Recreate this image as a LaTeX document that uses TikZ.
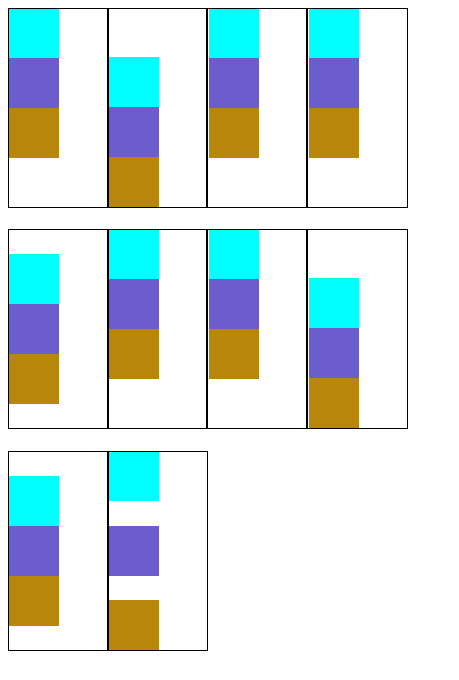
\documentclass[tikz,border=0pt]{standalone}
\begin{document}
\begin{tikzpicture}[x=1pt,y=-1pt,
  frame/.style={draw=black,line width=1pt,minimum width=99.6pt,minimum height=199pt,inner sep=0pt,outer sep=0pt,anchor=north west},
  blk/.style={inner sep=0pt,outer sep=0pt,minimum width=50pt,minimum height=50pt,anchor=north west,draw=none},
  cy/.style={blk,fill={rgb,255:red,0;green,255;blue,255}},
  pu/.style={blk,fill={rgb,255:red,108;green,93;blue,207}},
  go/.style={blk,fill={rgb,255:red,184;green,134;blue,11}},
  divider/.style={line width=2pt,black}]
\useasboundingbox (0,0) rectangle (458,680);
% row 1 blocks
\node[cy] (a1c) at (8.6,8) {}; \node[pu] (a1p) at (8.6,58) {}; \node[go] (a1g) at (8.6,108) {};
\node[cy] (a2c) at (108.6,57) {}; \node[pu] (a2p) at (108.6,107) {}; \node[go] (a2g) at (108.6,157) {};
\node[cy] (a3c) at (208.6,8) {}; \node[pu] (a3p) at (208.6,58) {}; \node[go] (a3g) at (208.6,108) {};
\node[cy] (a4c) at (308.6,8) {}; \node[pu] (a4p) at (308.6,58) {}; \node[go] (a4g) at (308.6,108) {};
% row 2 blocks
\node[cy] (b1c) at (8.6,254) {}; \node[pu] (b1p) at (8.6,304) {}; \node[go] (b1g) at (8.6,354) {};
\node[cy] (b2c) at (108.6,229) {}; \node[pu] (b2p) at (108.6,279) {}; \node[go] (b2g) at (108.6,329) {};
\node[cy] (b3c) at (208.6,229) {}; \node[pu] (b3p) at (208.6,279) {}; \node[go] (b3g) at (208.6,329) {};
\node[cy] (b4c) at (308.6,278) {}; \node[pu] (b4p) at (308.6,328) {}; \node[go] (b4g) at (308.6,378) {};
% row 3 blocks
\node[cy] (c1c) at (8.6,476) {}; \node[pu] (c1p) at (8.6,526) {}; \node[go] (c1g) at (8.6,576) {};
\node[cy] (c2c) at (108.6,451) {}; \node[pu] (c2p) at (108.6,526) {}; \node[go] (c2g) at (108.6,600) {};
% frames
\node[frame] (A1) at (8,8) {}; \node[frame] (A2) at (107.6,8) {};
\node[frame] (A3) at (207.6,8) {}; \node[frame] (A4) at (307.6,8) {};
\node[frame] (B1) at (8,229) {}; \node[frame] (B2) at (107.6,229) {};
\node[frame] (B3) at (207.6,229) {}; \node[frame] (B4) at (307.6,229) {};
\node[frame] (C1) at (8,451) {}; \node[frame] (C2) at (107.6,451) {};
% dividers
\draw[divider] (A1.north east) -- (A1.south east);
\draw[divider] (A2.north east) -- (A2.south east);
\draw[divider] (A3.north east) -- (A3.south east);
\draw[divider] (B1.north east) -- (B1.south east);
\draw[divider] (B2.north east) -- (B2.south east);
\draw[divider] (B3.north east) -- (B3.south east);
\draw[divider] (C1.north east) -- (C1.south east);
\end{tikzpicture}
\end{document}
